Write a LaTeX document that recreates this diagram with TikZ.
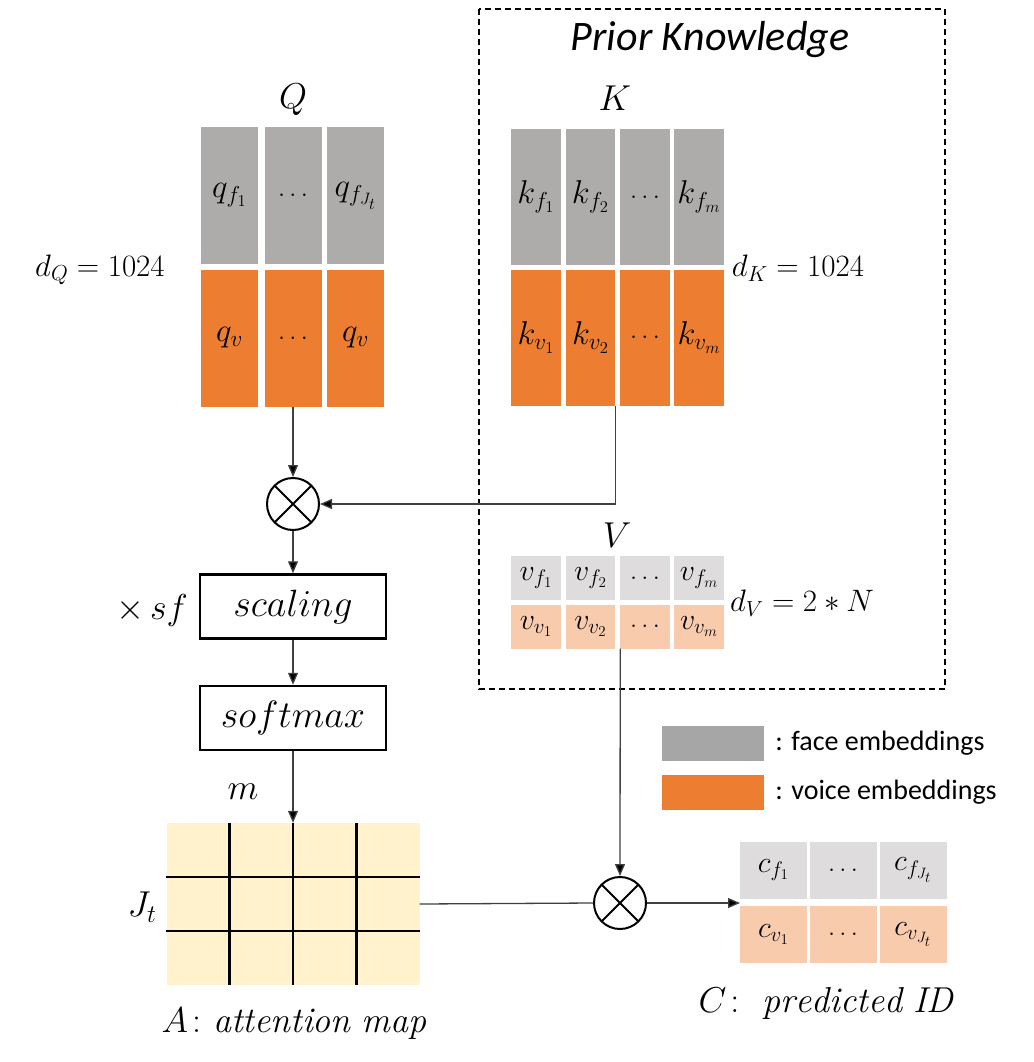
\RequirePackage{fix-cm}
\documentclass[tikz,border=0pt]{standalone}
\usepackage{amsmath}
\usepackage{fontspec}
\newfontfamily\calibri{Carlito}
\usetikzlibrary{arrows.meta,calc,positioning}
\definecolor{embGray}{HTML}{AEABAB}
\definecolor{embOrange}{HTML}{ED7D31}
\definecolor{embGrayLight}{HTML}{DEDCDC}
\definecolor{embOrangeLight}{HTML}{F8CBAD}
\definecolor{attnYellow}{HTML}{FFF2CC}
\definecolor{keyGray}{HTML}{A6A6A6}
\definecolor{wireGray}{HTML}{404040}
\newcommand{\cellDots}{{\fontsize{26}{30}\selectfont$\ldots$}}

\begin{document}
\begin{tikzpicture}[x=1pt,y=-1pt,
  cell/.style={inner sep=0pt,outer sep=0pt,font=\fontsize{33}{36}\selectfont},
  qcell/.style={cell,minimum width=57pt,minimum height=137pt},
  kcell/.style={cell,minimum width=49.5pt,minimum height=136pt},
  vcell/.style={cell,minimum width=49.5pt,minimum height=44pt,font=\fontsize{30}{34}\selectfont},
  ccell/.style={cell,minimum width=67pt,minimum height=57pt,font=\fontsize{30}{34}\selectfont},
  opbox/.style={draw,line width=2.5pt,minimum width=186pt,minimum height=64pt,inner sep=0pt,font=\fontsize{38}{44}\selectfont},
  mult/.style={circle,draw,line width=2pt,minimum size=52pt,inner sep=0pt,
    path picture={\draw[line width=2pt] (path picture bounding box.north west) -- (path picture bounding box.south east)
      (path picture bounding box.north east) -- (path picture bounding box.south west);}},
  wire/.style={line width=1.3pt,wireGray},
  flow/.style={wire,-{Triangle[width=10pt,length=12pt,fill=black]}},
  lbl/.style={font=\fontsize{36}{40}\selectfont,inner sep=0pt},
  dimlbl/.style={font=\fontsize{31}{34}\selectfont,inner sep=0pt},
  keybox/.style={minimum width=102pt,minimum height=35pt,inner sep=0pt},
  keytxt/.style={font=\calibri\fontsize{28}{32}\selectfont,inner sep=0pt,anchor=west}
]
\useasboundingbox (0,0) rectangle (1033,1062);
\draw[line width=2pt,dash pattern=on 6pt off 4pt] (479,9) rectangle (945,689);
\node[font=\calibri\itshape\fontsize{42}{46}\selectfont] (prior) at (710,40) {Prior Knowledge};

\node[lbl] (qlab) at (293,100) {$Q$};
\node[qcell,fill=embGray] (qf1) at (229.5,195.5) {$q_{f_1}$};
\node[qcell,fill=embGray] (qf2) at (293,195.5) {\cellDots};
\node[qcell,fill=embGray] (qf3) at (355.5,195.5) {$q_{f_{J_t}}$};
\node[qcell,fill=embOrange] (qv1) at (229.5,338) {$q_v$};
\node[qcell,fill=embOrange] (qv2) at (293,338) {\cellDots};
\node[qcell,fill=embOrange] (qv3) at (355.5,338) {$q_v$};
\node[dimlbl] (dq) at (100,270) {$d_Q = 1024$};

\node[lbl] (klab) at (615,98) {$K$};
\node[kcell,fill=embGray] (kf1) at (536,197) {$k_{f_1}$};
\node[kcell,fill=embGray] (kf2) at (590.5,197) {$k_{f_2}$};
\node[kcell,fill=embGray] (kf3) at (645,197) {\cellDots};
\node[kcell,fill=embGray] (kf4) at (699,197) {$k_{f_m}$};
\node[kcell,fill=embOrange] (kv1) at (536,337.5) {$k_{v_1}$};
\node[kcell,fill=embOrange] (kv2) at (590.5,337.5) {$k_{v_2}$};
\node[kcell,fill=embOrange] (kv3) at (645,337.5) {\cellDots};
\node[kcell,fill=embOrange] (kv4) at (699,337.5) {$k_{v_m}$};
\node[dimlbl] (dk) at (798,268) {$d_K = 1024$};

\node[mult] (mul1) at (293,504) {};
\draw[flow] (qv2.south) -- (mul1.north);
\draw[flow] (kv2.south east) |- (mul1.east);

\node[lbl] (vlab) at (617,535) {$V$};
\node[vcell,fill=embGrayLight] (vf1) at (536,578) {$v_{f_1}$};
\node[vcell,fill=embGrayLight] (vf2) at (590.5,578) {$v_{f_2}$};
\node[vcell,fill=embGrayLight] (vf3) at (645,578) {\cellDots};
\node[vcell,fill=embGrayLight] (vf4) at (699,578) {$v_{f_m}$};
\node[vcell,fill=embOrangeLight] (vv1) at (536,626.5) {$v_{v_1}$};
\node[vcell,fill=embOrangeLight] (vv2) at (590.5,626.5) {$v_{v_2}$};
\node[vcell,fill=embOrangeLight] (vv3) at (645,626.5) {\cellDots};
\node[vcell,fill=embOrangeLight] (vv4) at (699,626.5) {$v_{v_m}$};
\node[dimlbl] (dv) at (802,603) {$d_V = 2 * N$};

\node[opbox] (scale) at (293,606.5) {$scaling$};
\node[opbox] (soft) at (293,718) {$softmax$};
\node[lbl] (sf) at (152,610) {$\times\, sf$};
\draw[flow] (mul1.south) -- (scale.north);
\draw[flow] (scale.south) -- (soft.north);

\node[fill=attnYellow,minimum width=253pt,minimum height=162pt,inner sep=0pt] (attn) at (293,904) {};
\foreach \f in {0.25,0.5,0.75}
  \draw[line width=2.5pt] ($(attn.north west)!\f!(attn.north east)$) -- ($(attn.south west)!\f!(attn.south east)$);
\foreach \f in {0.333,0.667}
  \draw[line width=2.5pt] ($(attn.north west)!\f!(attn.south west)$) -- ($(attn.north east)!\f!(attn.south east)$);
\draw[flow] (soft.south) -- (attn.north);
\node[lbl] (mlab) at (243,792) {$m$};
\node[lbl] (jlab) at (142,907) {$J_t$};
\node[lbl] (alab) at (294,1024) {$A\colon \mathit{attention\ map}$};

\node[mult] (mul2) at (620,903) {};
\draw[flow] (vv3.south west) -- (mul2.north);
\draw[wire] (attn.east) -- (mul2.west);

\node[ccell,fill=embGrayLight] (cf1) at (773.5,870) {$c_{f_1}$};
\node[ccell,fill=embGrayLight] (cf2) at (843,870) {\cellDots};
\node[ccell,fill=embGrayLight] (cf3) at (913,870) {$c_{f_{J_t}}$};
\node[ccell,fill=embOrangeLight] (cv1) at (773.5,934.5) {$c_{v_1}$};
\node[ccell,fill=embOrangeLight] (cv2) at (843,934.5) {\cellDots};
\node[ccell,fill=embOrangeLight] (cv3) at (913,934.5) {$c_{v_{J_t}}$};
\draw[flow] (mul2.east) -- (mul2.east -| cf1.west);
\node[lbl] (clab) at (826,1003) {$C\colon\ \mathit{predicted\ ID}$};

\node[keybox,fill=keyGray] (keyface) at (713,743.5) {};
\node[keybox,fill=embOrange] (keyvoice) at (713,792) {};
\node[keytxt,right=11pt of keyface] (keyfacetxt) {: face embeddings};
\node[keytxt,right=11pt of keyvoice] (keyvoicetxt) {: voice embeddings};
\end{tikzpicture}
\end{document}
